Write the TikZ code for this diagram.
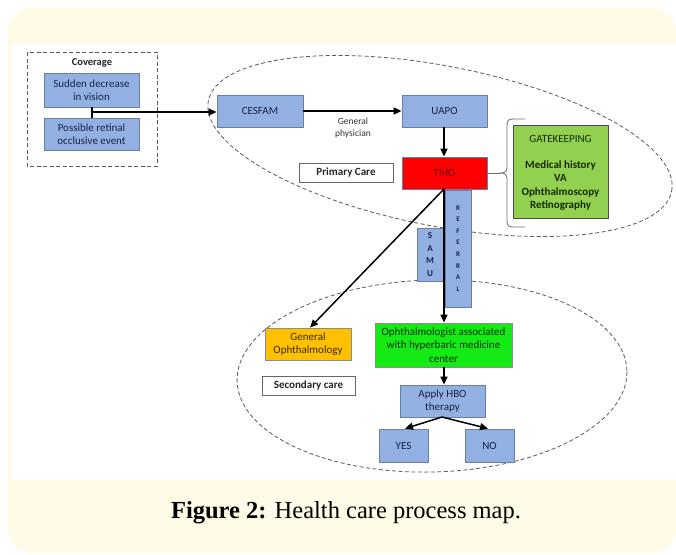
\documentclass[tikz,border=0pt]{standalone}
\usepackage{fontspec}
\setmainfont{Carlito}
\newfontfamily\capfont{Liberation Serif}
\usetikzlibrary{arrows.meta}
\definecolor{cream}{RGB}{255,251,230}
\definecolor{bfill}{RGB}{146,176,226}
\definecolor{bline}{RGB}{105,125,165}
\definecolor{tred}{RGB}{255,0,0}
\definecolor{gkgreen}{RGB}{146,208,80}
\definecolor{lime}{RGB}{20,235,20}
\definecolor{orng}{RGB}{255,192,0}
\definecolor{dashc}{RGB}{90,90,90}
\definecolor{navy}{RGB}{25,35,70}
\tikzset{
  base/.style={draw=bline, line width=0.8pt, inner sep=0pt, align=center,
    font=\fontsize{11}{13.5}\selectfont, text=navy},
  bluebox/.style={base, fill=bfill},
  labelbox/.style={draw=black!60, line width=0.8pt, fill=white, inner sep=0pt,
    font=\fontsize{11}{13.5}\selectfont\bfseries, text=black!85},
  dashline/.style={draw=dashc, line width=0.8pt, dash pattern=on 4pt off 2.5pt},
  flow/.style={draw=black, line width=1.5pt, -{Triangle[length=8pt,width=7pt]}},
  plain/.style={draw=black, line width=1.5pt}
}
\begin{document}
\begin{tikzpicture}[x=1pt,y=-1pt]
\useasboundingbox (0,0) rectangle (676,554);
\fill[white] (0,0) rectangle (676,554);
\fill[cream, rounded corners=24pt] (8,8) rectangle (676,553);
\fill[white] (12,44) rectangle (676,480);

% ellipses
\draw[dashline, rotate around={-11:(440,146)}] (440,146) ellipse [x radius=236pt, y radius=80pt];
\draw[dashline, rotate around={1.5:(432,376)}] (432,376) ellipse [x radius=195pt, y radius=96pt];

% coverage
\draw[dashline] (27,52) rectangle (157,166);
\node[font=\fontsize{10.5}{12}\selectfont\bfseries, text=black!85] (covlbl) at (92,63) {Coverage};
\node[bluebox, minimum width=95pt, minimum height=34pt] (sud) at (91.5,90) {Sudden decrease\\in vision};
\node[bluebox, minimum width=95pt, minimum height=32pt] (pos) at (91.5,134) {Possible retinal\\occlusive event};
\coordinate (j) at (92,112);

% primary care
\node[bluebox, minimum width=86pt, minimum height=32pt] (cesfam) at (260,111) {CESFAM};
\node[bluebox, minimum width=85pt, minimum height=32pt] (uapo) at (444.5,111) {UAPO};
\node[font=\fontsize{9.5}{12}\selectfont, text=black!80, align=center] (gp) at (353,128) {General\\physician};
\node[base, fill=tred, text={rgb,255:red,90;green,0;blue,0}, minimum width=85pt, minimum height=32pt] (tmo) at (444.5,173) {TMO};
\node[labelbox, minimum width=94pt, minimum height=19pt] (pc) at (346,172.5) {Primary Care};
\node[base, draw=black!70, fill=gkgreen, text={rgb,255:red,20;green,40;blue,0}, minimum width=95pt, minimum height=93pt] (gate) at (560.5,171.5) {};
\node[font=\fontsize{11}{13.5}\selectfont, text={rgb,255:red,20;green,40;blue,0}] (gk) at (560.5,139) {GATEKEEPING};
\node[font=\fontsize{11}{13.6}\selectfont\bfseries, text={rgb,255:red,20;green,40;blue,0}, align=center] (gkl) at (560.5,185.5) {Medical history\\VA\\Ophthalmoscopy\\Retinography};
\coordinate (tip) at (501,173);
\draw[draw=black!55, line width=0.9pt] (525,119) -- (513,119) .. controls (508,119) and (507,121) .. (507,125) -- (507,167) .. controls (507,171) and (505,173) .. (tip) .. controls (505,173) and (507,175) .. (507,179) -- (507,221) .. controls (507,225) and (508,227) .. (513,227) -- (525,227);
\draw[draw=black!55, line width=0.9pt] (tmo.east) -- (tip);

% referral
\node[bluebox, minimum width=26pt, minimum height=53pt, font=\fontsize{9}{12.4}\selectfont\bfseries] (samu) at (430,254.5) {S\\A\\M\\U};
\node[bluebox, minimum width=26pt, minimum height=117pt, font=\fontsize{7}{11.6}\selectfont\bfseries] (ref) at (458,248.5) {R\\E\\F\\E\\R\\R\\A\\L};

% secondary care
\node[base, draw=black!45, fill=orng, text={rgb,255:red,60;green,40;blue,0}, minimum width=86pt, minimum height=32pt] (genoph) at (308,344) {General\\Ophthalmology};
\node[base, draw=black!45, fill=lime, text={rgb,255:red,0;green,45;blue,0}, minimum width=137pt, minimum height=44pt] (oph) at (443.5,345) {Ophthalmologist associated\\with hyperbaric medicine\\center};
\node[labelbox, minimum width=93pt, minimum height=19pt] (sc) at (308.5,385.5) {Secondary care};
\node[bluebox, minimum width=85pt, minimum height=32pt] (hbo) at (442.5,401) {Apply HBO\\therapy};
\node[bluebox, minimum width=49pt, minimum height=33pt] (yes) at (403.5,445.5) {YES};
\node[bluebox, minimum width=49pt, minimum height=33pt] (no) at (489.5,445.5) {NO};

% connectors
\coordinate (tmob) at (444,189);
\draw[plain] (sud.south -| j) -- (pos.north -| j);
\draw[flow] (j) -- (cesfam.west |- j);
\draw[flow] (cesfam.east) -- (uapo.west);
\draw[flow] (uapo.south -| tmob) -- (tmo.north -| tmob);
\draw[flow] (tmob) -- (oph.north -| tmob);
\draw[flow] (tmob) -- ([xshift=2pt]genoph.north);
\draw[flow] (oph.south -| tmob) -- (hbo.north -| tmob);
\coordinate (hbob) at (442,417);
\draw[flow] (hbob) -- ([xshift=1.5pt]yes.north);
\draw[flow] (hbob) -- ([xshift=-1.5pt]no.north);

% caption
\node[font=\capfont\fontsize{24.5}{28}\selectfont, text=black] (cap) at (346,513) {\textbf{Figure 2:} Health care process map.};
\end{tikzpicture}
\end{document}
